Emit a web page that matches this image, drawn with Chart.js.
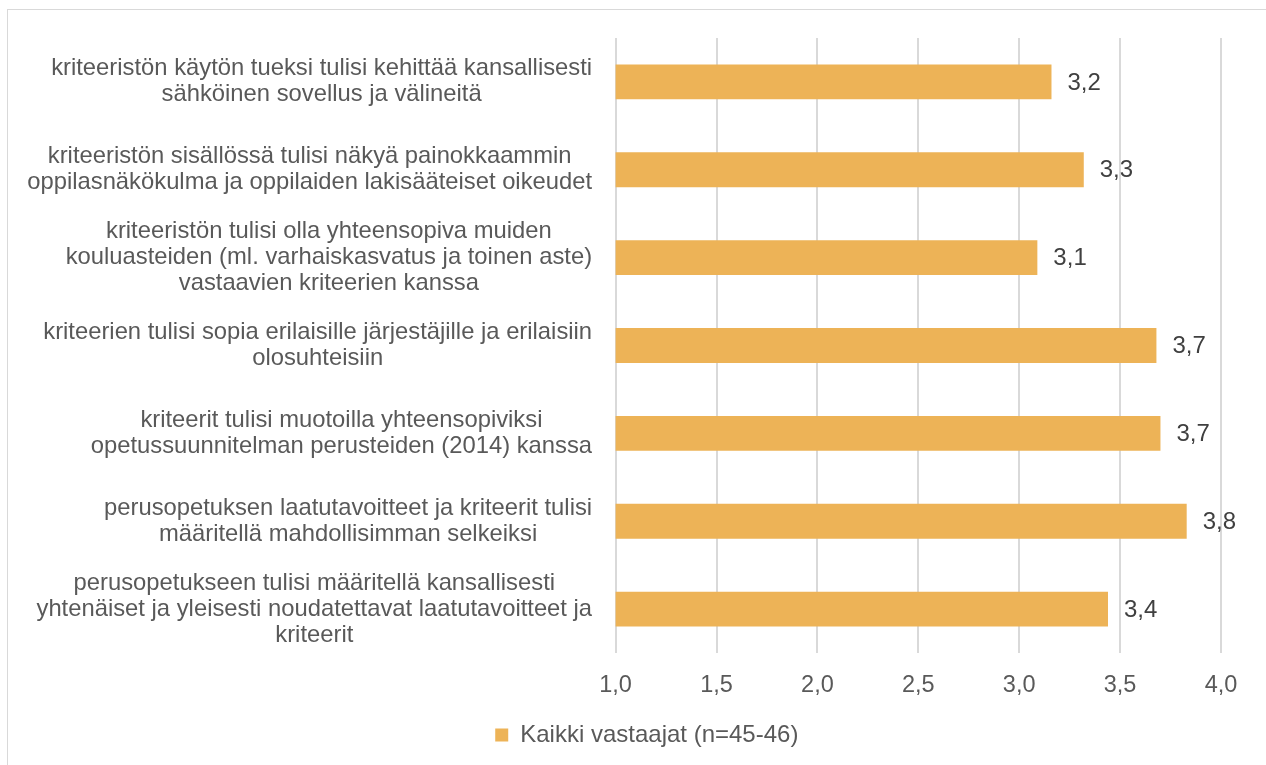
<!DOCTYPE html>
<html>
<head>
<meta charset="utf-8">
<script src="https://cdn.jsdelivr.net/npm/chart.js@4/dist/chart.umd.min.js"></script>
<style>
  html, body { margin: 0; padding: 0; background: #ffffff; }
  #wrap { width: 1266px; height: 765px; position: relative; }
</style>
</head>
<body>
<div id="wrap"><canvas id="c"></canvas></div>
<script>
const categories = [
  ["kriteeristön käytön tueksi tulisi kehittää kansallisesti", "sähköinen sovellus ja välineitä"],
  ["kriteeristön sisällössä tulisi näkyä painokkaammin", "oppilasnäkökulma ja oppilaiden lakisääteiset oikeudet"],
  ["kriteeristön tulisi olla yhteensopiva muiden", "kouluasteiden (ml. varhaiskasvatus ja toinen aste)", "vastaavien kriteerien kanssa"],
  ["kriteerien tulisi sopia erilaisille järjestäjille ja erilaisiin", "olosuhteisiin"],
  ["kriteerit tulisi muotoilla yhteensopiviksi", "opetussuunnitelman perusteiden (2014) kanssa"],
  ["perusopetuksen laatutavoitteet ja kriteerit tulisi", "määritellä mahdollisimman selkeiksi"],
  ["perusopetukseen tulisi määritellä kansallisesti", "yhtenäiset ja yleisesti noudatettavat laatutavoitteet ja", "kriteerit"]
];
const seriesName = "Kaikki vastaajat (n=45-46)";
const seriesValues = [3.16, 3.32, 3.09, 3.68, 3.70, 3.83, 3.44];
const axisMin = 1.0;
const axisMax = 4.0;
const axisStep = 0.5;

const FONT = "'Liberation Sans', Arial, sans-serif";
const fmt = v => Number(v).toFixed(1).replace('.', ',');

const borderPlugin = {
  id: 'outerBorder',
  beforeDraw(chart) {
    const ctx = chart.ctx;
    ctx.save();
    ctx.fillStyle = '#ffffff';
    ctx.fillRect(0, 0, chart.width, chart.height);
    ctx.strokeStyle = '#d9d9d9';
    ctx.lineWidth = 1;
    ctx.strokeRect(7.5, 9.5, chart.width + 10, chart.height + 10);
    ctx.restore();
  }
};

const valueLabels = {
  id: 'valueLabels',
  afterDatasetsDraw(chart) {
    const ctx = chart.ctx;
    const meta = chart.getDatasetMeta(0);
    ctx.save();
    ctx.font = "24px " + FONT;
    ctx.fillStyle = '#404040';
    ctx.textAlign = 'left';
    ctx.textBaseline = 'middle';
    meta.data.forEach((bar, i) => {
      ctx.fillText(fmt(chart.data.datasets[0].data[i]), bar.x + 16, bar.y + 1);
    });
    ctx.restore();
  }
};

const categoryLabels = {
  id: 'categoryLabels',
  afterDraw(chart) {
    const ctx = chart.ctx;
    const yScale = chart.scales.y;
    const lineH = 26;
    const rightEdge = chart.chartArea.left - 23.5;
    ctx.save();
    ctx.font = "23.8px " + FONT;
    ctx.fillStyle = '#595959';
    ctx.textAlign = 'center';
    ctx.textBaseline = 'middle';
    chart.data.labels.forEach((lines, i) => {
      const arr = Array.isArray(lines) ? lines : [lines];
      const w = Math.max(...arr.map(l => ctx.measureText(l).width));
      const cx = rightEdge - w / 2;
      const cy = yScale.getPixelForValue(i);
      arr.forEach((l, k) => {
        ctx.fillText(l, cx, cy + (k - (arr.length - 1) / 2) * lineH);
      });
    });
    ctx.restore();
  }
};

new Chart(document.getElementById('c'), {
  type: 'bar',
  data: {
    labels: categories,
    datasets: [{
      label: seriesName,
      data: seriesValues,
      backgroundColor: '#EDB357',
      borderWidth: 0,
      barPercentage: 0.397,
      categoryPercentage: 1.0
    }]
  },
  options: {
    indexAxis: 'y',
    responsive: true,
    maintainAspectRatio: false,
    animation: false,
    devicePixelRatio: 1,
    layout: { padding: { left: 72.6, right: 45, top: 38, bottom: 8 } },
    scales: {
      x: {
        type: 'linear',
        position: 'bottom',
        min: axisMin,
        max: axisMax,
        ticks: {
          stepSize: axisStep,
          padding: 18,
          color: '#595959',
          font: { family: FONT, size: 23.5 },
          callback: v => fmt(v)
        },
        grid: { color: '#d9d9d9', lineWidth: 2, drawTicks: false },
        border: { display: false },
        afterFit(scale) { scale.height = 60; }
      },
      y: {
        type: 'category',
        position: 'left',
        ticks: { display: false },
        grid: { display: false, drawTicks: false },
        border: { display: false },
        afterFit(scale) { scale.width = 543; }
      }
    },
    plugins: {
      legend: {
        display: true,
        position: 'bottom',
        labels: {
          boxWidth: 13,
          boxHeight: 13,
          padding: 10,
          color: '#595959',
          font: { family: FONT, size: 24 }
        }
      },
      tooltip: { enabled: false },
      title: { display: false }
    }
  },
  plugins: [borderPlugin, valueLabels, categoryLabels]
});
</script>
</body>
</html>
